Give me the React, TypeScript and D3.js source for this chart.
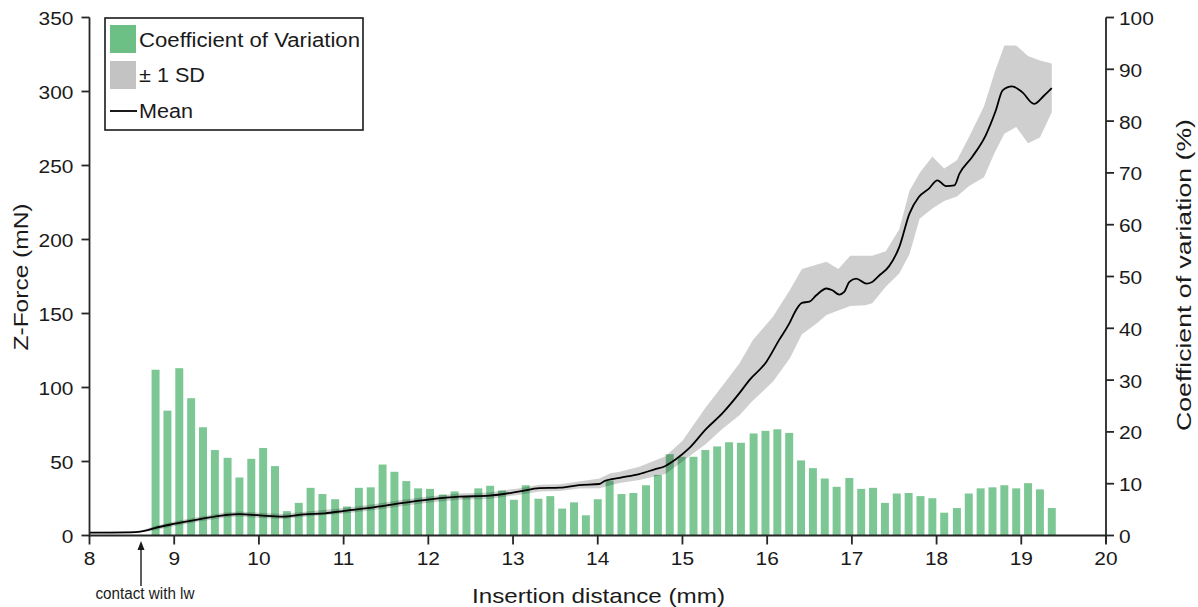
import React from 'react';
import * as d3 from 'd3';

// Coefficient of variation per insertion-distance bin (bin centre in mm, CV in %)
const cvDistance = [
  8.78, 8.92, 9.06, 9.2, 9.34, 9.48, 9.63, 9.77, 9.91, 10.05,
  10.19, 10.33, 10.47, 10.61, 10.75, 10.9, 11.04, 11.18, 11.32, 11.46,
  11.6, 11.74, 11.88, 12.02, 12.17, 12.31, 12.45, 12.59, 12.73, 12.87,
  13.01, 13.15, 13.3, 13.44, 13.58, 13.72, 13.86, 14.0, 14.14, 14.28,
  14.42, 14.57, 14.71, 14.85, 14.99, 15.13, 15.27, 15.41, 15.55, 15.69,
  15.84, 15.98, 16.12, 16.26, 16.4, 16.54, 16.68, 16.82, 16.97, 17.11,
  17.25, 17.39, 17.53, 17.67, 17.81, 17.95, 18.09, 18.24, 18.38, 18.52,
  18.66, 18.8, 18.94, 19.08, 19.22, 19.36,
];
const cvPercent = [
  32.0, 24.1, 32.3, 26.5, 20.9, 16.5, 15.0, 11.2, 14.8, 16.9,
  13.4, 4.7, 6.3, 9.2, 8.0, 7.0, 5.6, 9.2, 9.3, 13.7,
  12.3, 10.5, 9.1, 9.0, 7.9, 8.5, 7.6, 9.1, 9.6, 8.7,
  6.9, 9.7, 7.1, 7.6, 5.2, 6.4, 3.9, 7.0, 10.6, 8.0,
  8.2, 9.7, 11.7, 15.7, 15.2, 15.2, 16.5, 17.2, 18.0, 17.9,
  19.7, 20.2, 20.5, 19.8, 14.5, 13.0, 11.0, 9.4, 11.1, 9.0,
  9.2, 6.3, 8.1, 8.2, 7.6, 7.2, 4.4, 5.3, 8.1, 9.1,
  9.3, 9.7, 9.1, 10.1, 8.9, 5.3,
];

// Mean Z-force (mN) along the insertion
const meanDistance = [
  8.0, 8.25, 8.48, 8.6, 8.7, 8.77, 9.01, 9.3, 9.6, 9.77,
  10.01, 10.28, 10.54, 10.78, 11.01, 11.37, 11.66, 12.02, 12.37, 12.72,
  13.08, 13.31, 13.55, 13.78, 14.02, 14.08, 14.26, 14.49, 14.67, 14.8,
  14.91, 15.08, 15.28, 15.47, 15.67, 15.79, 15.99, 16.14, 16.26, 16.34,
  16.41, 16.5, 16.58, 16.7, 16.77, 16.85, 16.91, 16.97, 17.05, 17.17,
  17.24, 17.32, 17.44, 17.56, 17.68, 17.79, 17.91, 18.01, 18.11, 18.21,
  18.27, 18.42, 18.58, 18.7, 18.78, 18.89, 19.01, 19.15, 19.27, 19.36,
];
const meanForce = [
  1.9, 2.0, 2.1, 2.6, 3.8, 5.0, 8.0, 11.0, 13.8, 14.5,
  13.6, 12.8, 14.3, 15.0, 16.7, 19.2, 21.7, 24.4, 26.2, 26.9,
  29.8, 32.0, 32.3, 34.1, 34.8, 36.8, 39.0, 41.5, 44.7, 47.0,
  51.0, 59.0, 72.0, 82.5, 96.0, 105.0, 117.3, 132.0, 143.2, 152.2,
  157.2, 158.0, 162.3, 166.9, 165.7, 162.8, 164.6, 171.3, 173.6, 170.2,
  171.3, 175.5, 182.0, 195.0, 217.5, 228.7, 234.4, 240.0, 236.1, 236.6,
  244.5, 255.8, 270.4, 287.3, 300.8, 303.5, 299.6, 291.7, 297.3, 302.3,
];

// Mean ± 1 SD envelope (mN)
const sdDistance = [
  8.0, 8.6, 8.77, 9.01, 9.3, 9.6, 9.77, 10.01, 10.28, 10.54,
  11.01, 11.37, 11.66, 12.02, 12.37, 12.72, 13.08, 13.31, 13.55, 13.78,
  14.02, 14.15, 14.26, 14.49, 14.8, 15.0, 15.28, 15.47, 15.67, 15.83,
  16.07, 16.27, 16.41, 16.58, 16.7, 16.84, 16.98, 17.16, 17.24, 17.4,
  17.56, 17.68, 17.8, 17.95, 18.09, 18.24, 18.38, 18.56, 18.68, 18.8,
  18.94, 19.08, 19.22, 19.36,
];
const sdUpper = [
  2.3, 3.0, 6.5, 9.6, 12.6, 15.5, 16.2, 15.3, 14.5, 16.0,
  18.6, 21.2, 23.8, 26.5, 28.3, 29.1, 32.0, 34.3, 34.6, 36.5,
  38.5, 42.0, 43.0, 46.5, 53.5, 64.0, 87.0, 101.0, 116.0, 132.0,
  148.0, 166.0, 180.0, 183.0, 185.0, 180.0, 189.0, 189.0, 189.0, 192.0,
  207.0, 233.0, 245.0, 256.0, 248.0, 253.5, 269.0, 290.0, 312.0, 331.0,
  331.0, 324.0, 321.0, 319.0,
];
const sdLower = [
  1.5, 2.2, 3.6, 6.4, 9.4, 12.1, 12.8, 11.9, 11.1, 12.6,
  14.8, 17.2, 19.6, 22.3, 24.1, 24.7, 27.6, 29.7, 30.0, 31.7,
  32.0, 34.0, 35.5, 37.5, 41.5, 50.0, 62.0, 72.0, 81.0, 91.0,
  104.0, 120.0, 136.0, 143.0, 149.0, 152.0, 155.0, 155.5, 157.0, 168.0,
  177.0, 190.0, 214.0, 221.0, 226.0, 229.0, 236.0, 242.0, 258.0, 271.5,
  276.0, 265.0, 269.0, 286.0,
];

const forceTicks = [0, 50, 100, 150, 200, 250, 300, 350];
const cvTicks = [0, 10, 20, 30, 40, 50, 60, 70, 80, 90, 100];
const distanceTicks = [8, 9, 10, 11, 12, 13, 14, 15, 16, 17, 18, 19, 20];

const W = 1198;
const H = 607;
const FONT = "'Liberation Sans', Arial, Helvetica, sans-serif";
const INK = '#1a1a1a';
const AXIS = '#262626';
const BAR_FILL = '#7cc794';
const LEGEND_GREEN = '#6cbf85';
const LEGEND_GREY = '#c3c3c3';

// Wide Helvetica-like lettering
const STRETCH = 1.1;

export default function App() {
  const x = d3.scaleLinear().domain([8, 20]).range([89.5, 1106]);
  const yF = d3.scaleLinear().domain([0, 350]).range([535.5, 17.5]);
  const yCV = d3.scaleLinear().domain([0, 100]).range([535.5, 17.5]);

  const barWidth = x(8.094) - x(8);
  const idxSd = sdDistance.map((_, i) => i);
  const idxMean = meanDistance.map((_, i) => i);

  const band = d3
    .area<number>()
    .x((i) => x(sdDistance[i]))
    .y0((i) => yF(sdLower[i]))
    .y1((i) => yF(sdUpper[i]))
    .curve(d3.curveLinear);

  const meanLine = d3
    .line<number>()
    .x((i) => x(meanDistance[i]))
    .y((i) => yF(meanForce[i]))
    .curve(d3.curveMonotoneX);

  const [x0, x1] = x.range();
  const yBase = yF(0);
  const yTop = yF(350);
  const tick = 8;

  return (
    <svg
      width={W}
      height={H}
      viewBox={`0 0 ${W} ${H}`}
      style={{ position: 'absolute', left: 0, top: 0, background: '#fff' }}
      fontFamily={FONT}
    >
      <rect width={W} height={H} fill="#fff" />

      {/* CV bars on the right-hand axis */}
      <g>
        {cvPercent.map((v, i) => (
          <rect
            key={i}
            x={x(cvDistance[i]) - barWidth / 2}
            y={yCV(v)}
            width={barWidth}
            height={yCV(0) - yCV(v)}
            fill={BAR_FILL}
          />
        ))}
      </g>

      {/* ±1 SD envelope, translucent so bars show through */}
      <path d={band(idxSd) ?? ''} fill="rgba(0,0,0,0.19)" stroke="none" />

      {/* mean force */}
      <path d={meanLine(idxMean) ?? ''} fill="none" stroke="#000" strokeWidth={1.8} strokeLinejoin="round" />

      {/* left axis */}
      <g stroke={AXIS} strokeWidth={1.8} fill="none">
        <line x1={x0} x2={x0} y1={yTop} y2={yBase + 1} />
        {forceTicks.map((t) => (
          <line key={t} x1={x0 - tick} x2={x0} y1={yF(t)} y2={yF(t)} />
        ))}
      </g>
      <g fill={INK} fontSize={19}>
        {forceTicks.map((t) => (
          <text key={t} transform={`translate(${x0 - 16},${yF(t) + 7.5}) scale(${STRETCH},1)`} textAnchor="end">
            {t}
          </text>
        ))}
      </g>
      <text
        transform={`translate(28,277) rotate(-90)`}
        textAnchor="middle"
        fontSize={21}
        fill={INK}
        textLength={147}
        lengthAdjust="spacingAndGlyphs"
      >
        Z-Force (mN)
      </text>

      {/* right axis */}
      <g stroke={AXIS} strokeWidth={1.8} fill="none">
        <line x1={x1} x2={x1} y1={yCV(100)} y2={yBase + tick} />
        {cvTicks.map((t) => (
          <line key={t} x1={x1} x2={x1 + tick} y1={yCV(t)} y2={yCV(t)} />
        ))}
      </g>
      <g fill={INK} fontSize={19}>
        {cvTicks.map((t) => (
          <text key={t} transform={`translate(${x1 + 13},${yCV(t) + 7.5}) scale(${STRETCH},1)`} textAnchor="start">
            {t}
          </text>
        ))}
      </g>
      <text
        transform={`translate(1191,275) rotate(-90)`}
        textAnchor="middle"
        fontSize={21}
        fill={INK}
        textLength={312}
        lengthAdjust="spacingAndGlyphs"
      >
        Coefficient of variation (%)
      </text>

      {/* bottom axis */}
      <g stroke={AXIS} strokeWidth={1.8} fill="none">
        <line x1={x0} x2={x1} y1={yBase} y2={yBase} />
        {distanceTicks.map((t) => (
          <line key={t} x1={x(t)} x2={x(t)} y1={yBase} y2={yBase + tick + 1} />
        ))}
      </g>
      <g fill={INK} fontSize={19}>
        {distanceTicks.map((t) => (
          <text key={t} transform={`translate(${x(t)},565) scale(${STRETCH},1)`} textAnchor="middle">
            {t}
          </text>
        ))}
      </g>
      <text
        x={598.5}
        y={603}
        textAnchor="middle"
        fontSize={21}
        fill={INK}
        textLength={253}
        lengthAdjust="spacingAndGlyphs"
      >
        Insertion distance (mm)
      </text>

      {/* contact marker */}
      <g stroke={INK} strokeWidth={1.4}>
        <line x1={141} x2={141} y1={586} y2={548} />
      </g>
      <path d="M141,541 L137.5,550 L144.5,550 Z" fill={INK} />
      <text x={95.5} y={599} fontSize={16} fill={INK} textLength={99} lengthAdjust="spacingAndGlyphs">
        contact with lw
      </text>

      {/* legend */}
      <g>
        <rect x={105} y={18} width={258} height={112} fill="#fff" stroke={INK} strokeWidth={1.6} />
        <rect x={110} y={25} width={26} height={28} fill={LEGEND_GREEN} />
        <rect x={110} y={61} width={26} height={28} fill={LEGEND_GREY} />
        <line x1={110} x2={137} y1={111} y2={111} stroke="#000" strokeWidth={1.8} />
        <g fontSize={20} fill={INK}>
          <text x={139} y={46.5} textLength={221} lengthAdjust="spacingAndGlyphs">
            Coefficient of Variation
          </text>
          <text x={139} y={82} textLength={66} lengthAdjust="spacingAndGlyphs">
            ± 1 SD
          </text>
          <text x={139} y={118} textLength={54} lengthAdjust="spacingAndGlyphs">
            Mean
          </text>
        </g>
      </g>
    </svg>
  );
}
